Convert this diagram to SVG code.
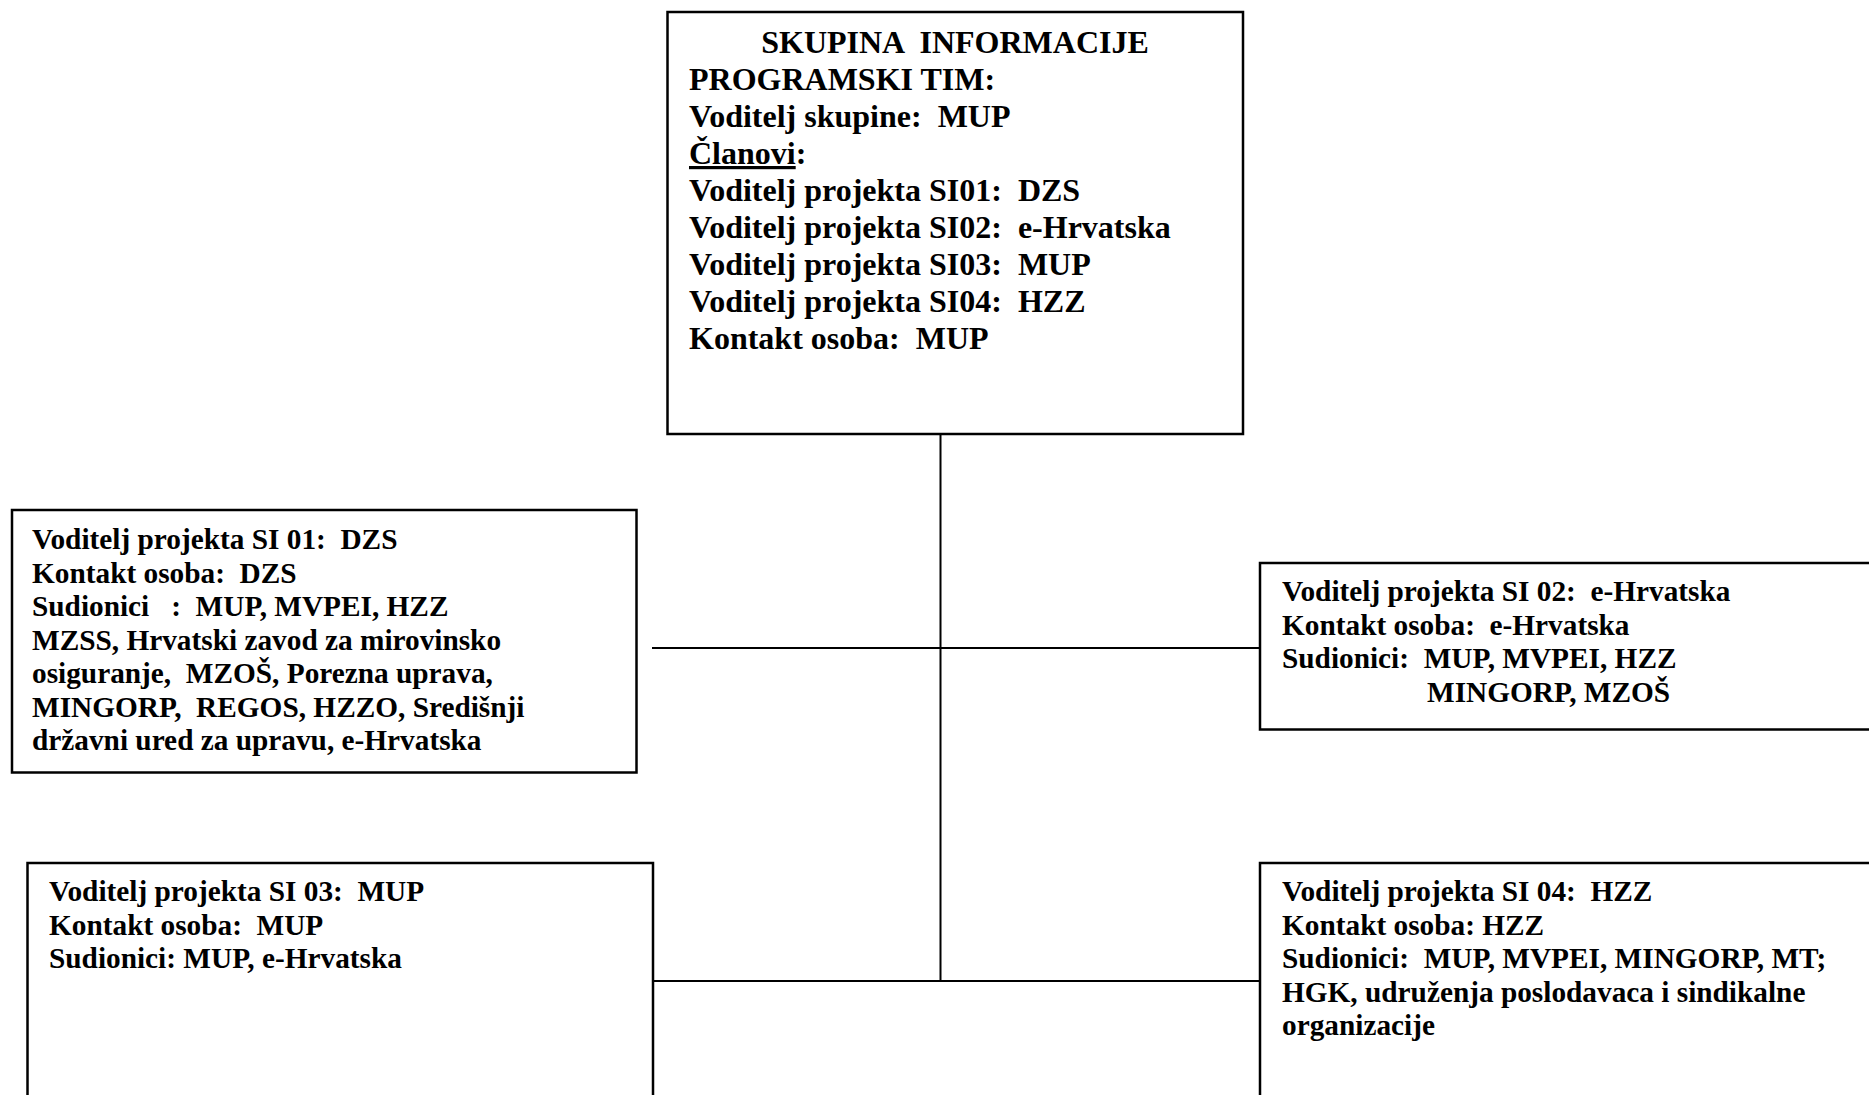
<svg xmlns="http://www.w3.org/2000/svg" width="1869" height="1095" viewBox="0 0 1869 1095" xml:space="preserve">
<style>
.box{fill:#fff;stroke:#000;stroke-width:2.5}
.ln{stroke:#000;stroke-width:2;fill:none}
text{font-family:"Liberation Serif","Times New Roman",serif;font-weight:bold;fill:#000;white-space:pre}
.t{font-size:32px}
.s{font-size:29.3px}
</style>
<rect width="1869" height="1095" fill="#fff"/>
<g id="connectors">
<line class="ln" x1="940.5" y1="434" x2="940.5" y2="981"/>
<line class="ln" x1="652" y1="648" x2="1260" y2="648"/>
<line class="ln" x1="653" y1="981" x2="1260" y2="981"/>
</g>
<g id="skupina">
<rect class="box" x="667.5" y="12" width="575.5" height="422"/>
<text class="t" x="955" y="53" text-anchor="middle">SKUPINA  INFORMACIJE</text>
<text class="t" x="689" y="90">PROGRAMSKI TIM:</text>
<text class="t" x="689" y="127">Voditelj skupine:  MUP</text>
<text class="t" x="689" y="164"><tspan style="text-decoration:underline">Članovi</tspan>:</text>
<text class="t" x="689" y="201">Voditelj projekta SI01:  DZS</text>
<text class="t" x="689" y="238">Voditelj projekta SI02:  e-Hrvatska</text>
<text class="t" x="689" y="275">Voditelj projekta SI03:  MUP</text>
<text class="t" x="689" y="312">Voditelj projekta SI04:  HZZ</text>
<text class="t" x="689" y="349">Kontakt osoba:  MUP</text>
</g>
<g id="si01">
<rect class="box" x="12" y="510" width="624.5" height="262.5"/>
<text class="s" x="32" y="549">Voditelj projekta SI 01:  DZS</text>
<text class="s" x="32" y="582.5">Kontakt osoba:  DZS</text>
<text class="s" x="32" y="616">Sudionici   :  MUP, MVPEI, HZZ</text>
<text class="s" x="32" y="649.5">MZSS, Hrvatski zavod za mirovinsko</text>
<text class="s" x="32" y="683">osiguranje,  MZOŠ, Porezna uprava,</text>
<text class="s" x="32" y="716.5">MINGORP,  REGOS, HZZO, Središnji</text>
<text class="s" x="32" y="750">državni ured za upravu, e-Hrvatska</text>
</g>
<g id="si02">
<rect class="box" x="1260" y="563" width="620" height="166.5"/>
<text class="s" x="1282" y="601">Voditelj projekta SI 02:  e-Hrvatska</text>
<text class="s" x="1282" y="634.5">Kontakt osoba:  e-Hrvatska</text>
<text class="s" x="1282" y="668">Sudionici:  MUP, MVPEI, HZZ</text>
<text class="s" x="1427" y="701.5">MINGORP, MZOŠ</text>
</g>
<g id="si03">
<rect class="box" x="27.5" y="863" width="625.5" height="250"/>
<text class="s" x="49" y="901">Voditelj projekta SI 03:  MUP</text>
<text class="s" x="49" y="934.5">Kontakt osoba:  MUP</text>
<text class="s" x="49" y="968">Sudionici: MUP, e-Hrvatska</text>
</g>
<g id="si04">
<rect class="box" x="1260" y="863" width="620" height="250"/>
<text class="s" x="1282" y="901">Voditelj projekta SI 04:  HZZ</text>
<text class="s" x="1282" y="934.5">Kontakt osoba: HZZ</text>
<text class="s" x="1282" y="968">Sudionici:  MUP, MVPEI, MINGORP, MT;</text>
<text class="s" x="1282" y="1001.5">HGK, udruženja poslodavaca i sindikalne</text>
<text class="s" x="1282" y="1035">organizacije</text>
</g>
</svg>
